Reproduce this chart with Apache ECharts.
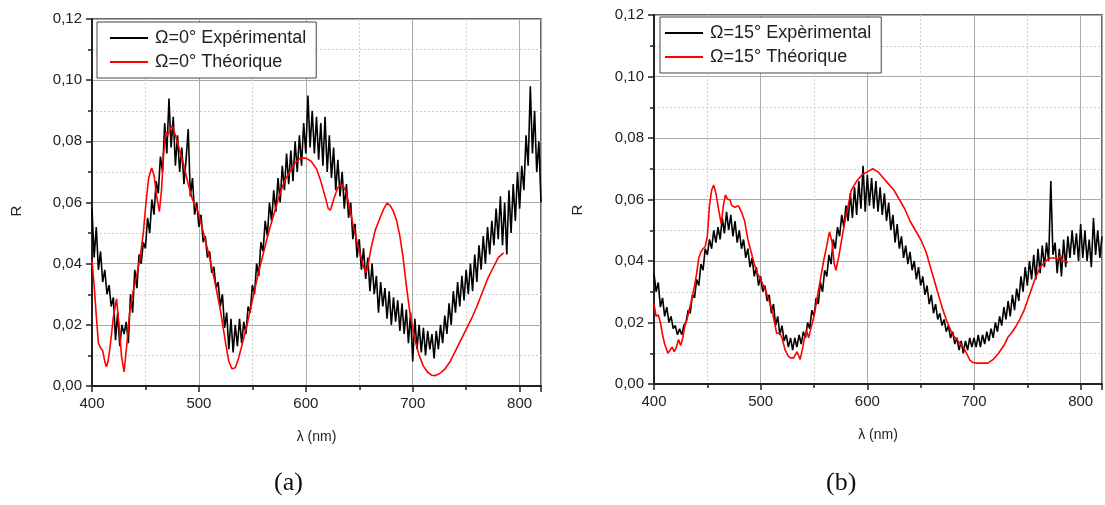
<!DOCTYPE html>
<html><head><meta charset="utf-8">
<script src="https://cdn.jsdelivr.net/npm/echarts@6/dist/echarts.min.js"></script>
<style>html,body{margin:0;padding:0;background:#fff}#c{width:1105px;height:505px}</style>
</head><body><div id="c"></div>
<script>
// ---------- data ----------
// experimental wavelength grid (nm), 2 nm sampling from 400 to 820
const expWavelengths = [];
for (let w = 400; w <= 820; w += 2) expWavelengths.push(w);

// (a) Ω=0° experimental reflectance
const expA = [
0.058,0.042,0.052,0.038,0.044,0.034,0.038,0.030,0.033,0.026,
0.029,0.015,0.024,0.013,0.020,0.017,0.021,0.014,0.030,0.024,
0.038,0.032,0.043,0.040,0.047,0.045,0.055,0.050,0.061,0.056,
0.067,0.063,0.075,0.070,0.086,0.076,0.094,0.078,0.088,0.072,
0.082,0.070,0.078,0.066,0.074,0.084,0.062,0.068,0.056,0.060,
0.052,0.056,0.047,0.049,0.042,0.044,0.037,0.039,0.032,0.034,
0.026,0.030,0.019,0.024,0.012,0.022,0.011,0.020,0.013,0.022,
0.014,0.021,0.017,0.026,0.024,0.033,0.030,0.040,0.036,0.047,
0.044,0.054,0.049,0.060,0.054,0.064,0.057,0.068,0.060,0.072,
0.064,0.076,0.066,0.077,0.067,0.080,0.070,0.082,0.072,0.086,
0.076,0.095,0.078,0.090,0.076,0.088,0.074,0.086,0.072,0.088,
0.070,0.082,0.068,0.078,0.064,0.074,0.062,0.070,0.058,0.066,
0.055,0.060,0.048,0.053,0.042,0.048,0.038,0.045,0.035,0.042,
0.031,0.040,0.030,0.036,0.024,0.034,0.026,0.032,0.022,0.031,
0.020,0.029,0.021,0.028,0.018,0.027,0.017,0.025,0.014,0.024,
0.008,0.022,0.012,0.020,0.011,0.019,0.010,0.018,0.012,0.017,
0.009,0.018,0.012,0.020,0.014,0.023,0.017,0.027,0.020,0.031,
0.024,0.034,0.026,0.036,0.028,0.038,0.030,0.040,0.031,0.043,
0.034,0.046,0.038,0.049,0.040,0.052,0.043,0.054,0.046,0.058,
0.048,0.062,0.046,0.060,0.043,0.064,0.050,0.066,0.054,0.070,
0.058,0.072,0.064,0.082,0.072,0.098,0.076,0.090,0.070,0.080,
0.060];

// (a) Ω=0° theoretical reflectance
const theoWlA = [400,402,404,406,408,410,412,413.5,415,417,420,423,425.5,427.7,430,432.4,435.5,438.5,441.7,445,
448,450.5,453,455.8,458,460.5,463,465,467,469,471,473,475,478,482,486,490,494,498,500,
505,510,515,520,525,528,531,534,537,540,545,550,555,560,565,570,575,580,585,590,
595,600,605,610,614,618,621,623,626,630,634,637,640,644,648,651,654,656,658,661,
665,670,673,676,679,682,685,688,691,694,697,700,703,706,710,714,718,721,725,730,
735,740,745,750,755,760,765,770,775,780,785];
const theoA = [0.041,0.033,0.023,0.014,0.0125,0.0115,0.008,0.0063,0.008,0.013,0.0227,0.0285,0.019,0.0095,0.0046,0.013,0.025,0.031,0.036,0.042,
0.050,0.060,0.068,0.0713,0.069,0.062,0.057,0.064,0.076,0.083,0.082,0.084,0.085,0.082,0.077,0.072,0.066,0.061,0.058,0.056,
0.049,0.042,0.034,0.025,0.014,0.008,0.0056,0.006,0.009,0.013,0.020,0.028,0.036,0.043,0.050,0.056,0.062,0.067,0.070,0.073,
0.0745,0.0745,0.0735,0.071,0.067,0.062,0.058,0.0575,0.061,0.065,0.066,0.064,0.060,0.053,0.047,0.043,0.039,0.037,0.039,0.045,
0.051,0.0555,0.058,0.0598,0.059,0.057,0.054,0.049,0.042,0.033,0.025,0.019,0.014,0.010,0.0065,0.0045,0.0035,0.0034,0.004,0.0055,
0.008,0.0115,0.015,0.0185,0.022,0.026,0.0305,0.035,0.0385,0.042,0.0435];

// (b) Ω=15° experimental reflectance
const expB = [
0.036,0.030,0.033,0.025,0.028,0.022,0.025,0.020,0.022,0.018,
0.019,0.016,0.018,0.016,0.019,0.020,0.024,0.023,0.029,0.028,
0.034,0.032,0.039,0.037,0.044,0.042,0.047,0.044,0.050,0.046,
0.051,0.047,0.054,0.049,0.056,0.050,0.055,0.048,0.053,0.046,
0.050,0.044,0.047,0.041,0.044,0.038,0.041,0.035,0.038,0.032,
0.035,0.030,0.032,0.027,0.029,0.023,0.026,0.019,0.022,0.016,
0.019,0.014,0.016,0.012,0.015,0.011,0.015,0.012,0.016,0.013,
0.017,0.015,0.020,0.018,0.024,0.022,0.028,0.026,0.033,0.030,
0.037,0.035,0.042,0.039,0.047,0.044,0.051,0.048,0.055,0.051,
0.058,0.053,0.062,0.054,0.064,0.055,0.066,0.057,0.071,0.056,
0.068,0.058,0.067,0.057,0.066,0.056,0.064,0.055,0.062,0.053,
0.059,0.050,0.055,0.046,0.052,0.044,0.048,0.041,0.045,0.039,
0.043,0.037,0.040,0.034,0.038,0.032,0.035,0.029,0.032,0.026,
0.029,0.023,0.026,0.021,0.023,0.019,0.021,0.017,0.019,0.015,
0.017,0.013,0.015,0.011,0.014,0.010,0.014,0.011,0.015,0.012,
0.015,0.012,0.016,0.012,0.016,0.013,0.017,0.014,0.018,0.015,
0.020,0.017,0.022,0.019,0.025,0.021,0.027,0.022,0.029,0.024,
0.031,0.027,0.035,0.030,0.038,0.032,0.040,0.034,0.042,0.034,
0.044,0.036,0.045,0.038,0.046,0.040,0.066,0.042,0.046,0.036,
0.044,0.035,0.047,0.038,0.048,0.041,0.050,0.042,0.049,0.040,
0.052,0.041,0.050,0.040,0.047,0.038,0.054,0.042,0.050,0.041,
0.048];

// (b) Ω=15° theoretical reflectance
const theoWlB = [400,402,404,406,408,410,413,415,417,419,421,423,425,427,429,431,433,435,438,440,
442,444,446,448,450,452,454,456,458,460,462,463,465,467,469,471,473,476,479,482,
485,488,491,494,497,500,505,510,513,515,518,520,523,526,528,531,534,535.5,537,539,
541,543,545,547,550,553,556,559,562,564.5,567,569,570.5,573,576,579,582,585,590,595,
600,605,610,615,620,625,630,635,640,645,650,655,660,665,670,675,680,685,690,693,
696,699,703,708,713,718,723,728,732,736,739,743,747,750,754,757,762,767,772,776,
779,781,783,786,788];
const theoB = [0.026,0.022,0.0225,0.020,0.016,0.013,0.010,0.011,0.012,0.0105,0.012,0.0145,0.0125,0.015,0.019,0.021,0.024,0.027,0.032,0.036,
0.041,0.043,0.044,0.0447,0.048,0.058,0.063,0.0647,0.062,0.058,0.054,0.052,0.058,0.0615,0.060,0.060,0.058,0.0575,0.058,0.056,
0.053,0.047,0.043,0.039,0.036,0.034,0.030,0.025,0.020,0.0165,0.0165,0.015,0.011,0.009,0.0085,0.0085,0.0105,0.011,0.008,0.011,
0.015,0.0175,0.015,0.018,0.022,0.028,0.034,0.040,0.045,0.0495,0.046,0.039,0.037,0.041,0.047,0.053,0.058,0.063,0.066,0.068,
0.069,0.070,0.069,0.067,0.065,0.063,0.060,0.057,0.053,0.050,0.047,0.043,0.037,0.031,0.025,0.020,0.016,0.014,0.012,0.010,
0.0078,0.007,0.0068,0.0068,0.0068,0.008,0.010,0.0125,0.0153,0.017,0.0186,0.021,0.024,0.027,0.031,0.034,0.038,0.040,0.041,0.041,
0.0405,0.042,0.040,0.040,0.0395];

const yTicks = [0, 0.02, 0.04, 0.06, 0.08, 0.10, 0.12];
const xTicks = [400, 500, 600, 700, 800];
const namesA = ['Ω=0° Expérimental', 'Ω=0° Théorique'];
const namesB = ['Ω=15° Expèrimental', 'Ω=15° Théorique'];
const panelLabels = ['(a)', '(b)'];
const yTitle = 'R';

// ---------- chart ----------
const zip = (xs, ys) => ys.map((y, i) => [xs[i], y]);
const FONT = 'Liberation Sans, Arial, sans-serif';
const chart = echarts.init(document.getElementById('c'), null, {renderer: 'canvas'});

function xAxisCfg(gi) {
  return {
    gridIndex: gi, type: 'value', min: 400, max: 820, interval: 100,
    name: 'λ (nm)', nameLocation: 'middle', nameGap: 44,
    nameTextStyle: {fontFamily: FONT, fontSize: 14, color: '#222'},
    axisLine: {show: true, lineStyle: {color: '#222', width: 2}},
    axisTick: {show: true, inside: false, length: 6, lineStyle: {color: '#222', width: 1.5}},
    minorTick: {show: true, splitNumber: 2, length: 4, lineStyle: {color: '#222', width: 1.5}},
    axisLabel: {fontFamily: FONT, fontSize: 15, color: '#222', margin: 10,
      formatter: v => xTicks.includes(v) ? String(v) : ''},
    splitLine: {show: true, lineStyle: {color: '#aaa', width: 1}},
    minorSplitLine: {show: true, lineStyle: {color: '#d0d0d0', width: 1, type: [2, 2]}}
  };
}
function yAxisCfg(gi) {
  return {
    gridIndex: gi, type: 'value', min: 0, max: 0.12, interval: 0.02,
    axisLine: {show: true, lineStyle: {color: '#222', width: 2}},
    axisTick: {show: true, inside: false, length: 6, lineStyle: {color: '#222', width: 1.5}},
    minorTick: {show: true, splitNumber: 2, length: 4, lineStyle: {color: '#222', width: 1.5}},
    axisLabel: {fontFamily: FONT, fontSize: 15, color: '#222', margin: 10,
      formatter: v => v.toFixed(2).replace('.', ',')},
    splitLine: {show: true, lineStyle: {color: '#aaa', width: 1}},
    minorSplitLine: {show: true, lineStyle: {color: '#d0d0d0', width: 1, type: [2, 2]}}
  };
}
function legendCfg(names, left, top, padLeft) {
  return {
    data: names, orient: 'vertical', left: left, top: top,
    backgroundColor: '#fff', borderColor: '#444', borderWidth: 1,
    padding: [6, 10, 6, padLeft], itemGap: 4, itemWidth: 38, itemHeight: 2,
    icon: 'rect',
    textStyle: {fontFamily: FONT, fontSize: 18, color: '#222', lineHeight: 20, padding: [0, 0, 0, 2]},
    selectedMode: false
  };
}
function line(name, gi, data, color, width) {
  return {name, type: 'line', xAxisIndex: gi, yAxisIndex: gi, data, symbol: 'none',
    color, lineStyle: {color, width}, emphasis: {disabled: true}, z: color === '#000' ? 2 : 3};
}
function yTitleText(x, y) {
  return {type: 'text', x: x, y: y, rotation: Math.PI / 2,
    style: {text: yTitle, font: '15px ' + FONT, fill: '#222', align: 'center', verticalAlign: 'middle'}};
}

chart.setOption({
  animation: false,
  grid: [
    {left: 92, top: 19, width: 449, height: 367, show: true, borderColor: '#333', borderWidth: 1.5, backgroundColor: 'transparent'},
    {left: 654, top: 15, width: 453, height: 369, show: true, borderColor: '#333', borderWidth: 1.5, backgroundColor: 'transparent'}
  ],
  xAxis: [xAxisCfg(0), xAxisCfg(1)],
  yAxis: [yAxisCfg(0), yAxisCfg(1)],
  legend: [legendCfg(namesA, 97, 22, 13), legendCfg(namesB, 660, 17, 5)],
  series: [
    line(namesA[0], 0, zip(expWavelengths, expA), '#000', 1.6),
    line(namesA[1], 0, zip(theoWlA, theoA), '#ff0000', 1.6),
    line(namesB[0], 1, zip(expWavelengths, expB), '#000', 1.6),
    line(namesB[1], 1, zip(theoWlB, theoB), '#ff0000', 1.6)
  ],
  graphic: [
    yTitleText(17, 211),
    yTitleText(578, 210),
    {type: 'text', left: 274, top: 470, style: {text: panelLabels[0], font: '26px "Liberation Serif", "Times New Roman", serif', fill: '#111'}},
    {type: 'text', left: 826, top: 470, style: {text: panelLabels[1], font: '26px "Liberation Serif", "Times New Roman", serif', fill: '#111'}}
  ]
});
</script></body></html>
